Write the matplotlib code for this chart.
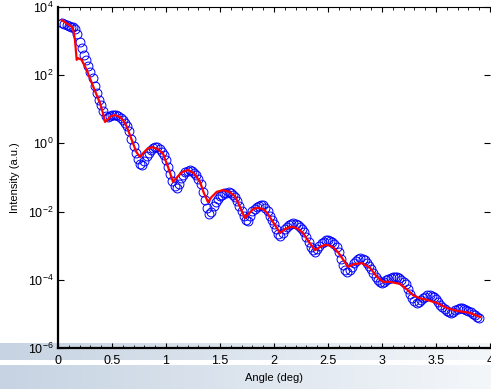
import numpy as np
import matplotlib
matplotlib.use("Agg")
import matplotlib.pyplot as plt
from matplotlib.ticker import MultipleLocator, FixedLocator, LogFormatterSciNotation, NullLocator

plt.rcParams['font.family'] = ['Liberation Sans', 'DejaVu Sans']
plt.rcParams['mathtext.fontset'] = 'custom'
plt.rcParams['mathtext.rm'] = 'Liberation Sans'
plt.rcParams['mathtext.it'] = 'Liberation Sans:italic'

# Measured data: angle (deg) and log10 intensity
meas_angle = [
    0.04, 0.06, 0.08, 0.10, 0.12, 0.14, 0.16, 0.18, 0.20, 0.22, 0.24, 0.26, 0.28, 0.30, 0.32, 0.34,
    0.36, 0.38, 0.40, 0.42, 0.44, 0.46, 0.48, 0.50, 0.52, 0.54, 0.56, 0.58, 0.60, 0.62, 0.64, 0.66,
    0.68, 0.70, 0.72, 0.74, 0.76, 0.78, 0.80, 0.82, 0.84, 0.86, 0.88, 0.90, 0.92, 0.94, 0.96, 0.98,
    1.00, 1.02, 1.04, 1.06, 1.08, 1.10, 1.12, 1.14, 1.16, 1.18, 1.20, 1.22, 1.24, 1.26, 1.28, 1.30,
    1.32, 1.34, 1.36, 1.38, 1.40, 1.42, 1.44, 1.46, 1.48, 1.50, 1.52, 1.54, 1.56, 1.58, 1.60, 1.62,
    1.64, 1.66, 1.68, 1.70, 1.72, 1.74, 1.76, 1.78, 1.80, 1.82, 1.84, 1.86, 1.88, 1.90, 1.92, 1.94,
    1.96, 1.98, 2.00, 2.02, 2.04, 2.06, 2.08, 2.10, 2.12, 2.14, 2.16, 2.18, 2.20, 2.22, 2.24, 2.26,
    2.28, 2.30, 2.32, 2.34, 2.36, 2.38, 2.40, 2.42, 2.44, 2.46, 2.48, 2.50, 2.52, 2.54, 2.56, 2.58,
    2.60, 2.62, 2.64, 2.66, 2.68, 2.70, 2.72, 2.74, 2.76, 2.78, 2.80, 2.82, 2.84, 2.86, 2.88, 2.90,
    2.92, 2.94, 2.96, 2.98, 3.00, 3.02, 3.04, 3.06, 3.08, 3.10, 3.12, 3.14, 3.16, 3.18, 3.20, 3.22,
    3.24, 3.26, 3.28, 3.30, 3.32, 3.34, 3.36, 3.38, 3.40, 3.42, 3.44, 3.46, 3.48, 3.50, 3.52, 3.54,
    3.56, 3.58, 3.60, 3.62, 3.64, 3.66, 3.68, 3.70, 3.72, 3.74, 3.76, 3.78, 3.80, 3.82, 3.84, 3.86,
    3.88, 3.90]
meas_log = [
    3.52, 3.50, 3.47, 3.44, 3.42, 3.40, 3.36, 3.20, 2.98, 2.79, 2.60, 2.44, 2.28, 2.09, 1.92, 1.69,
    1.47, 1.28, 1.12, 0.96, 0.81, 0.77, 0.79, 0.82, 0.83, 0.82, 0.80, 0.75, 0.70, 0.61, 0.50, 0.35,
    0.14, -0.07, -0.28, -0.47, -0.60, -0.63, -0.52, -0.37, -0.27, -0.19, -0.13, -0.11, -0.11, -0.16, -0.24, -0.33,
    -0.50, -0.70, -0.90, -1.09, -1.25, -1.31, -1.20, -1.02, -0.92, -0.84, -0.80, -0.78, -0.80, -0.86, -0.94, -1.04,
    -1.18, -1.42, -1.65, -1.88, -2.06, -2.02, -1.84, -1.72, -1.62, -1.54, -1.50, -1.46, -1.44, -1.43, -1.46, -1.51,
    -1.58, -1.68, -1.84, -1.99, -2.14, -2.26, -2.27, -2.12, -1.99, -1.92, -1.87, -1.84, -1.81, -1.82, -1.90, -1.99,
    -2.12, -2.24, -2.36, -2.51, -2.66, -2.73, -2.62, -2.52, -2.45, -2.39, -2.35, -2.33, -2.35, -2.40, -2.45, -2.52,
    -2.60, -2.75, -2.90, -3.03, -3.13, -3.18, -3.10, -3.01, -2.93, -2.88, -2.84, -2.83, -2.85, -2.90, -2.96, -3.03,
    -3.18, -3.38, -3.58, -3.70, -3.77, -3.71, -3.61, -3.52, -3.44, -3.39, -3.36, -3.38, -3.43, -3.50, -3.59, -3.68,
    -3.80, -3.92, -4.00, -4.05, -4.08, -4.07, -4.02, -3.97, -3.94, -3.93, -3.92, -3.92, -3.95, -4.00, -4.06, -4.13,
    -4.26, -4.42, -4.54, -4.63, -4.68, -4.65, -4.58, -4.53, -4.49, -4.46, -4.45, -4.47, -4.51, -4.57, -4.64, -4.73,
    -4.81, -4.87, -4.91, -4.95, -4.97, -4.94, -4.89, -4.85, -4.83, -4.83, -4.85, -4.88, -4.91, -4.95, -4.99, -5.03,
    -5.08, -5.12]

# Fitted curve: angle (deg) and log10 intensity
fit_angle = [0.034, 0.08, 0.127, 0.142, 0.157, 0.173, 0.188, 0.219, 0.266, 0.327, 0.389, 0.415, 0.435,
             0.46, 0.49, 0.528, 0.574, 0.61, 0.639, 0.665, 0.694, 0.725, 0.759, 0.79, 0.83, 0.870,
             0.92, 0.972, 1.02, 1.065, 1.10, 1.15, 1.204, 1.26, 1.315, 1.35, 1.389, 1.42, 1.47, 1.528,
             1.585, 1.639, 1.69, 1.731, 1.77, 1.81, 1.852, 1.90, 1.935, 2.00, 2.056, 2.10, 2.14, 2.176,
             2.22, 2.269, 2.33, 2.380, 2.43, 2.47, 2.50, 2.55, 2.60, 2.685, 2.74, 2.815, 2.889, 2.95,
             3.009, 3.074, 3.167, 3.23, 3.287, 3.35, 3.417, 3.509, 3.602, 3.694, 3.815, 3.907]
fit_log = [3.62, 3.52, 3.42, 3.33, 3.03, 2.45, 2.50, 2.45, 2.15, 1.66, 1.18, 0.90, 0.63,
           0.70, 0.80, 0.83, 0.77, 0.65, 0.48, 0.25, 0.01, -0.25, -0.40, -0.28, -0.15, -0.11,
           -0.16, -0.30, -0.70, -1.13, -1.00, -0.84, -0.78, -0.88, -1.13, -1.45, -1.72, -1.58, -1.42, -1.37,
           -1.42, -1.55, -1.90, -2.19, -2.05, -1.92, -1.89, -1.93, -2.03, -2.35, -2.63, -2.52, -2.46, -2.45,
           -2.50, -2.63, -2.92, -3.13, -3.03, -2.98, -2.98, -3.05, -3.22, -3.62, -3.54, -3.51, -3.65, -3.90,
           -4.06, -4.06, -4.12, -4.28, -4.45, -4.54, -4.59, -4.68, -4.83, -4.91, -4.97, -5.09]

y_ticks = [1e-6, 1e-4, 1e-2, 1e0, 1e2, 1e4]

W, H = 491, 389
fig = plt.figure(figsize=(W / 100, H / 100), dpi=100)

# background slide bands with horizontal gradient
bg = fig.add_axes([0, 0, 1, 1], zorder=0)
bg.axis('off')
grad = np.linspace(0, 1, 256)[None, :]
c0 = np.array([198, 211, 226]) / 255.0
c1 = np.array([244, 247, 250]) / 255.0
img = c0[None, None, :] * (1 - grad[..., None]) + c1[None, None, :] * grad[..., None]
bg.imshow(img, extent=[0, W, 360, 343], aspect='auto', interpolation='bilinear')
bg.imshow(img, extent=[0, W, 389, 365], aspect='auto', interpolation='bilinear')
bg.set_xlim(0, W)
bg.set_ylim(H, 0)

ax = fig.add_axes([58 / W, (H - 348) / H, 432 / W, 341 / H], zorder=1)
ax.patch.set_alpha(0)

ax.semilogy(meas_angle, 10 ** np.array(meas_log), 'o', mfc='none', mec=(0, 0, 1),
            ms=6.4, mew=0.7, zorder=2)
ax.semilogy(fit_angle, 10 ** np.array(fit_log), '-', color=(1, 0, 0), lw=1.6, zorder=3)

ax.set_xlim(0, 4)
ax.set_ylim(1e-6, 1e4)
ax.xaxis.set_major_locator(MultipleLocator(0.5))
ax.xaxis.set_minor_locator(MultipleLocator(0.1))
ax.xaxis.set_major_formatter(plt.FuncFormatter(lambda v, p: ('%g' % v)))
ax.yaxis.set_major_locator(FixedLocator(y_ticks))
ax.yaxis.set_minor_locator(NullLocator())
ax.yaxis.set_major_formatter(LogFormatterSciNotation())

ax.tick_params(axis='both', which='both', direction='in', top=True, right=True, labelsize=9)
ax.tick_params(axis='x', which='major', length=3.5, width=0.8, pad=5)
ax.tick_params(axis='x', which='minor', length=2, width=0.6)
ax.tick_params(axis='y', which='major', length=4, width=0.8, pad=3)

ax.spines['left'].set_linewidth(1.6)
ax.spines['bottom'].set_linewidth(1.6)
ax.spines['top'].set_linewidth(0.8)
ax.spines['right'].set_visible(False)

ax.set_xlabel('Angle (deg)', fontsize=8)
ax.set_ylabel('Intensity (a.u.)', fontsize=8)
ax.xaxis.set_label_coords(0.5, -0.088)
ax.xaxis.label.set_va('center')
ax.yaxis.set_label_coords(-0.0995, 0.5)
ax.yaxis.label.set_va('center')

fig.savefig('out.png', dpi=100)
